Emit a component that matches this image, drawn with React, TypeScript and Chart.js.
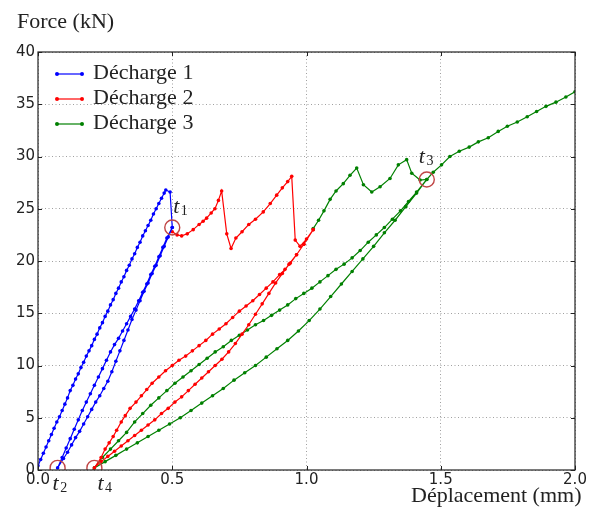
import React, { useEffect, useRef } from "react";
import { Chart, registerables } from "chart.js";

Chart.register(...registerables);

// ---------- labels ----------
const seriesNames = ["Décharge 1", "Décharge 2", "Décharge 3"];
const seriesColors = ["#0000ff", "#ff0000", "#008000"];
const xTitle = "Déplacement (mm)";
const yTitle = "Force (kN)";
const xTickValues = [0, 0.5, 1.0, 1.5, 2.0];
const xTickLabels = ["0.0", "0.5", "1.0", "1.5", "2.0"];
const yTickValues = [0, 5, 10, 15, 20, 25, 30, 35, 40];
const yTickLabels = ["0", "5", "10", "15", "20", "25", "30", "35", "40"];

// ---------- Décharge 1 (blue) ----------
const blueLoadX = [0, 0.01, 0.02, 0.03, 0.04, 0.05, 0.06, 0.07, 0.08, 0.09, 0.10, 0.11, 0.12, 0.13, 0.14, 0.15, 0.16, 0.17, 0.18, 0.19, 0.20, 0.21, 0.22, 0.23, 0.24, 0.25, 0.26, 0.27, 0.28, 0.29, 0.30, 0.31, 0.32, 0.33, 0.34, 0.35, 0.36, 0.37, 0.38, 0.39, 0.40, 0.41, 0.42, 0.43, 0.44, 0.45, 0.46, 0.47, 0.476, 0.492, 0.5];
const blueLoadY = [0.4, 1.0, 1.6, 2.2, 2.8, 3.4, 4.0, 4.6, 5.1, 5.7, 6.3, 6.9, 7.6, 8.1, 8.7, 9.2, 9.8, 10.3, 10.9, 11.4, 11.9, 12.5, 13.0, 13.6, 14.1, 14.7, 15.2, 15.8, 16.3, 16.9, 17.4, 18.0, 18.5, 19.1, 19.6, 20.2, 20.7, 21.3, 21.8, 22.4, 22.9, 23.4, 23.9, 24.5, 25.0, 25.5, 26.0, 26.5, 26.8, 26.6, 23.2];
const blueUnloadX = [0.485, 0.47, 0.455, 0.44, 0.425, 0.41, 0.395, 0.38, 0.365, 0.35, 0.335, 0.32, 0.305, 0.29, 0.275, 0.26, 0.245, 0.23, 0.215, 0.2, 0.185, 0.17, 0.155, 0.14, 0.125, 0.11, 0.095, 0.073];
const blueUnloadY = [22.3, 21.4, 20.5, 19.6, 18.8, 17.9, 17.1, 16.2, 15.3, 14.4, 13.4, 12.4, 11.4, 10.4, 9.4, 8.5, 7.8, 7.1, 6.5, 5.8, 5.1, 4.4, 3.7, 3.1, 2.4, 1.7, 1.1, 0.2];
const blueReloadX = [0.09, 0.105, 0.12, 0.135, 0.15, 0.165, 0.18, 0.195, 0.21, 0.225, 0.24, 0.255, 0.27, 0.285, 0.30, 0.315, 0.33, 0.345, 0.36, 0.375, 0.39, 0.405, 0.42, 0.435, 0.45, 0.465, 0.48, 0.5];
const blueReloadY = [1.2, 2.1, 3.0, 3.9, 4.8, 5.7, 6.5, 7.3, 8.1, 8.9, 9.7, 10.5, 11.3, 12.0, 12.6, 13.3, 14.0, 14.7, 15.4, 16.2, 17.0, 17.8, 18.7, 19.5, 20.4, 21.3, 22.2, 23.2];

// ---------- Décharge 2 (red) ----------
const redLoadX = [0.5, 0.518, 0.535, 0.556, 0.578, 0.60, 0.615, 0.628, 0.645, 0.659, 0.672, 0.684, 0.703, 0.719, 0.737, 0.76, 0.785, 0.81, 0.839, 0.865, 0.889, 0.91, 0.93, 0.945, 0.958, 0.976, 1.0, 1.025];
const redLoadY = [22.8, 22.5, 22.4, 22.6, 23.0, 23.5, 23.8, 24.1, 24.6, 25.0, 25.8, 26.7, 22.6, 21.2, 22.2, 22.8, 23.5, 24.0, 24.7, 25.5, 26.3, 27.0, 27.6, 28.1, 22.0, 21.4, 22.1, 23.0];
const redUnloadX = [0.99, 0.963, 0.94, 0.92, 0.90, 0.875, 0.85, 0.825, 0.80, 0.775, 0.75, 0.725, 0.70, 0.675, 0.65, 0.625, 0.60, 0.575, 0.55, 0.525, 0.50, 0.475, 0.45, 0.425, 0.405, 0.385, 0.365, 0.343, 0.325, 0.31, 0.293, 0.28, 0.265, 0.25, 0.235, 0.21];
const redUnloadY = [21.6, 20.6, 19.8, 19.2, 18.7, 18.0, 17.4, 16.8, 16.2, 15.7, 15.2, 14.6, 14.0, 13.5, 13.0, 12.4, 11.9, 11.4, 10.9, 10.5, 10.0, 9.5, 8.9, 8.3, 7.7, 7.1, 6.5, 5.9, 5.2, 4.6, 3.8, 3.2, 2.6, 2.0, 1.2, 0.2];
const redReloadX = [0.235, 0.26, 0.285, 0.31, 0.335, 0.36, 0.385, 0.41, 0.435, 0.46, 0.485, 0.51, 0.535, 0.56, 0.585, 0.61, 0.635, 0.66, 0.685, 0.71, 0.735, 0.76, 0.785, 0.81, 0.835, 0.86, 0.885, 0.91, 0.935, 0.963, 0.99, 1.025];
const redReloadY = [0.8, 1.3, 1.8, 2.3, 2.8, 3.3, 3.8, 4.3, 4.8, 5.4, 5.9, 6.5, 7.0, 7.6, 8.2, 8.8, 9.4, 10.0, 10.6, 11.3, 12.1, 13.0, 13.9, 14.9, 15.9, 16.9, 17.9, 18.8, 19.7, 20.6, 21.6, 23.0];

// ---------- Décharge 3 (green) ----------
const greenLoadX = [1.025, 1.045, 1.065, 1.088, 1.11, 1.137, 1.162, 1.187, 1.212, 1.243, 1.274, 1.311, 1.342, 1.373, 1.392, 1.423, 1.448];
const greenLoadY = [23.1, 23.9, 24.8, 25.9, 26.7, 27.4, 28.2, 28.9, 27.3, 26.6, 27.1, 27.9, 29.2, 29.7, 28.4, 27.75, 27.8];
const greenUnloadX = [1.41, 1.37, 1.33, 1.29, 1.25, 1.21, 1.17, 1.13, 1.09, 1.05, 1.01, 0.97, 0.93, 0.89, 0.85, 0.81, 0.77, 0.73, 0.69, 0.65, 0.61, 0.57, 0.53, 0.49, 0.45, 0.41, 0.37, 0.33, 0.29, 0.25, 0.21];
const greenUnloadY = [26.5, 25.2, 23.9, 22.7, 21.4, 20.2, 19.0, 17.8, 16.6, 15.4, 14.3, 13.3, 12.4, 11.6, 10.8, 10.0, 9.3, 8.6, 7.8, 7.1, 6.4, 5.7, 5.0, 4.4, 3.8, 3.2, 2.6, 2.0, 1.4, 0.8, 0.2];
const greenReloadX = [0.24, 0.27, 0.30, 0.33, 0.36, 0.39, 0.42, 0.45, 0.48, 0.51, 0.54, 0.57, 0.60, 0.63, 0.66, 0.69, 0.72, 0.75, 0.78, 0.81, 0.84, 0.87, 0.90, 0.93, 0.96, 0.99, 1.02, 1.05, 1.08, 1.11, 1.14, 1.17, 1.20, 1.23, 1.26, 1.29, 1.32, 1.35, 1.38, 1.41, 1.448];
const greenReloadY = [1.2, 2.0, 2.8, 3.6, 4.6, 5.4, 6.2, 6.9, 7.6, 8.3, 8.9, 9.5, 10.1, 10.7, 11.3, 11.8, 12.4, 12.9, 13.4, 13.9, 14.3, 14.8, 15.3, 15.8, 16.4, 16.9, 17.4, 18.0, 18.6, 19.2, 19.7, 20.3, 21.0, 21.8, 22.5, 23.2, 24.0, 24.8, 25.7, 26.6, 27.8];
const greenFinalX = [1.472, 1.503, 1.534, 1.569, 1.606, 1.64, 1.677, 1.714, 1.748, 1.785, 1.822, 1.857, 1.892, 1.929, 1.966, 2.0];
const greenFinalY = [28.5, 29.2, 30.0, 30.5, 30.9, 31.4, 31.8, 32.4, 32.9, 33.3, 33.8, 34.3, 34.8, 35.2, 35.7, 36.2];

// ---------- marked instants t1..t4 ----------
const markNames = ["1", "2", "3", "4"];
const markX = [0.5, 0.073, 1.448, 0.21];
const markY = [23.2, 0.2, 27.8, 0.2];

const pts = (xs: number[], ys: number[]) => xs.map((x, i) => ({ x, y: ys[i] }));

const blueData = [...pts(blueLoadX, blueLoadY), ...pts(blueUnloadX, blueUnloadY), ...pts(blueReloadX, blueReloadY)];
const redData = [...pts(redLoadX, redLoadY), ...pts(redUnloadX, redUnloadY), ...pts(redReloadX, redReloadY)];
const greenData = [...pts(greenLoadX, greenLoadY), ...pts(greenUnloadX, greenUnloadY), ...pts(greenReloadX, greenReloadY), ...pts(greenFinalX, greenFinalY)];

// label offsets (pixels) of "t" relative to marker
const markLabelOffset = [
  [1, -15],
  [-5, 22],
  [-8, -16],
  [3, 22],
];

const SERIF = '"Liberation Serif", "DejaVu Serif", serif';
const SANS = '"DejaVu Sans", sans-serif';

const decorPlugin = {
  id: "decor",
  afterDatasetsDraw(chart: any) {
    const { ctx, chartArea } = chart;
    const { left, right, top, bottom } = chartArea;
    const xs = chart.scales.x;
    const ys = chart.scales.y;
    ctx.save();
    // frame
    ctx.strokeStyle = "#222";
    ctx.lineWidth = 1.2;
    ctx.strokeRect(left, top, right - left, bottom - top);
    // inward ticks
    ctx.lineWidth = 1;
    ctx.beginPath();
    xTickValues.forEach((v) => {
      const px = Math.round(xs.getPixelForValue(v)) + 0.5;
      ctx.moveTo(px, bottom);
      ctx.lineTo(px, bottom - 4);
      ctx.moveTo(px, top);
      ctx.lineTo(px, top + 4);
    });
    yTickValues.forEach((v) => {
      const py = Math.round(ys.getPixelForValue(v)) + 0.5;
      ctx.moveTo(left, py);
      ctx.lineTo(left + 4, py);
      ctx.moveTo(right, py);
      ctx.lineTo(right - 4, py);
    });
    ctx.stroke();

    // t labels
    ctx.fillStyle = "#222";
    markNames.forEach((n, i) => {
      const px = xs.getPixelForValue(markX[i]);
      const py = ys.getPixelForValue(markY[i]);
      const [dx, dy] = markLabelOffset[i];
      ctx.textAlign = "left";
      ctx.textBaseline = "alphabetic";
      ctx.font = `italic 22px ${SERIF}`;
      ctx.fillText("t", px + dx, py + dy);
      const tw = ctx.measureText("t").width;
      ctx.font = `14px ${SERIF}`;
      ctx.fillText(n, px + dx + tw + 1.5, py + dy + 2);
    });

    // legend
    seriesNames.forEach((name, i) => {
      const y = top + 22 + 25 * i;
      const x0 = left + 19;
      const x1 = left + 44;
      ctx.strokeStyle = seriesColors[i];
      ctx.lineWidth = 1.2;
      ctx.beginPath();
      ctx.moveTo(x0, y);
      ctx.lineTo(x1, y);
      ctx.stroke();
      ctx.fillStyle = seriesColors[i];
      [x0, x1].forEach((x) => {
        ctx.beginPath();
        ctx.arc(x, y, 2, 0, Math.PI * 2);
        ctx.fill();
      });
      ctx.fillStyle = "#222";
      ctx.font = `22px ${SERIF}`;
      ctx.textAlign = "left";
      ctx.textBaseline = "alphabetic";
      ctx.fillText(name, left + 55, y + 4.5);
    });

    // axis titles
    ctx.fillStyle = "#222";
    ctx.font = `22px ${SERIF}`;
    ctx.textAlign = "left";
    ctx.fillText(yTitle, 17, top - 24.5);
    ctx.textAlign = "right";
    ctx.fillText(xTitle, right + 6.5, bottom + 32);
    ctx.restore();
  },
};

export default function App() {
  const ref = useRef<HTMLCanvasElement | null>(null);
  useEffect(() => {
    if (!ref.current) return;
    const lineDs = (label: string, data: any[], color: string) => ({
      label,
      data,
      showLine: true,
      borderColor: color,
      backgroundColor: color,
      borderWidth: 1.2,
      pointRadius: 1.8,
      pointBorderWidth: 0,
      pointBackgroundColor: color,
      tension: 0,
    });
    const chart = new Chart(ref.current, {
      type: "scatter",
      data: {
        datasets: [
          {
            label: "t",
            data: pts(markX, markY),
            showLine: false,
            pointRadius: 7.5,
            pointBorderWidth: 1.4,
            pointBorderColor: "#c04545",
            pointBackgroundColor: "rgba(0,0,0,0)",
            order: -1,
          } as any,
          lineDs(seriesNames[0], blueData, seriesColors[0]),
          lineDs(seriesNames[1], redData, seriesColors[1]),
          lineDs(seriesNames[2], greenData, seriesColors[2]),
        ],
      },
      options: {
        animation: false,
        responsive: false,
        maintainAspectRatio: false,
        layout: { padding: { top: 52, right: 14, bottom: 0, left: 0 } },
        plugins: {
          legend: { display: false },
          tooltip: { enabled: false },
          title: { display: false },
        },
        scales: {
          x: {
            type: "linear",
            min: 0,
            max: 2,
            afterBuildTicks: (s: any) => {
              s.ticks = xTickValues.map((v) => ({ value: v }));
            },
            afterFit: (s: any) => {
              s.height = 46;
            },
            grid: { color: "#a0a0a0", lineWidth: 1, drawTicks: false },
            border: { display: false, dash: [1, 2.5] },
            ticks: {
              padding: 1,
              color: "#222",
              font: { family: SANS, size: 15 },
              maxRotation: 0,
              autoSkip: false,
              callback: (_v: any, i: number) => xTickLabels[i],
            },
          },
          y: {
            type: "linear",
            min: 0,
            max: 40,
            afterBuildTicks: (s: any) => {
              s.ticks = yTickValues.map((v) => ({ value: v }));
            },
            afterFit: (s: any) => {
              s.width = 38;
            },
            grid: { color: "#a0a0a0", lineWidth: 1, drawTicks: false },
            border: { display: false, dash: [1, 2.5] },
            ticks: {
              padding: 3,
              color: "#222",
              font: { family: SANS, size: 15 },
              autoSkip: false,
              callback: (_v: any, i: number) => yTickLabels[i],
            },
          },
        },
      } as any,
      plugins: [decorPlugin],
    });
    return () => chart.destroy();
  }, []);
  return (
    <div style={{ position: "fixed", left: 0, top: 0, width: 589, height: 516, background: "#fff" }}>
      <canvas ref={ref} width={589} height={516} style={{ display: "block" }} />
    </div>
  );
}
